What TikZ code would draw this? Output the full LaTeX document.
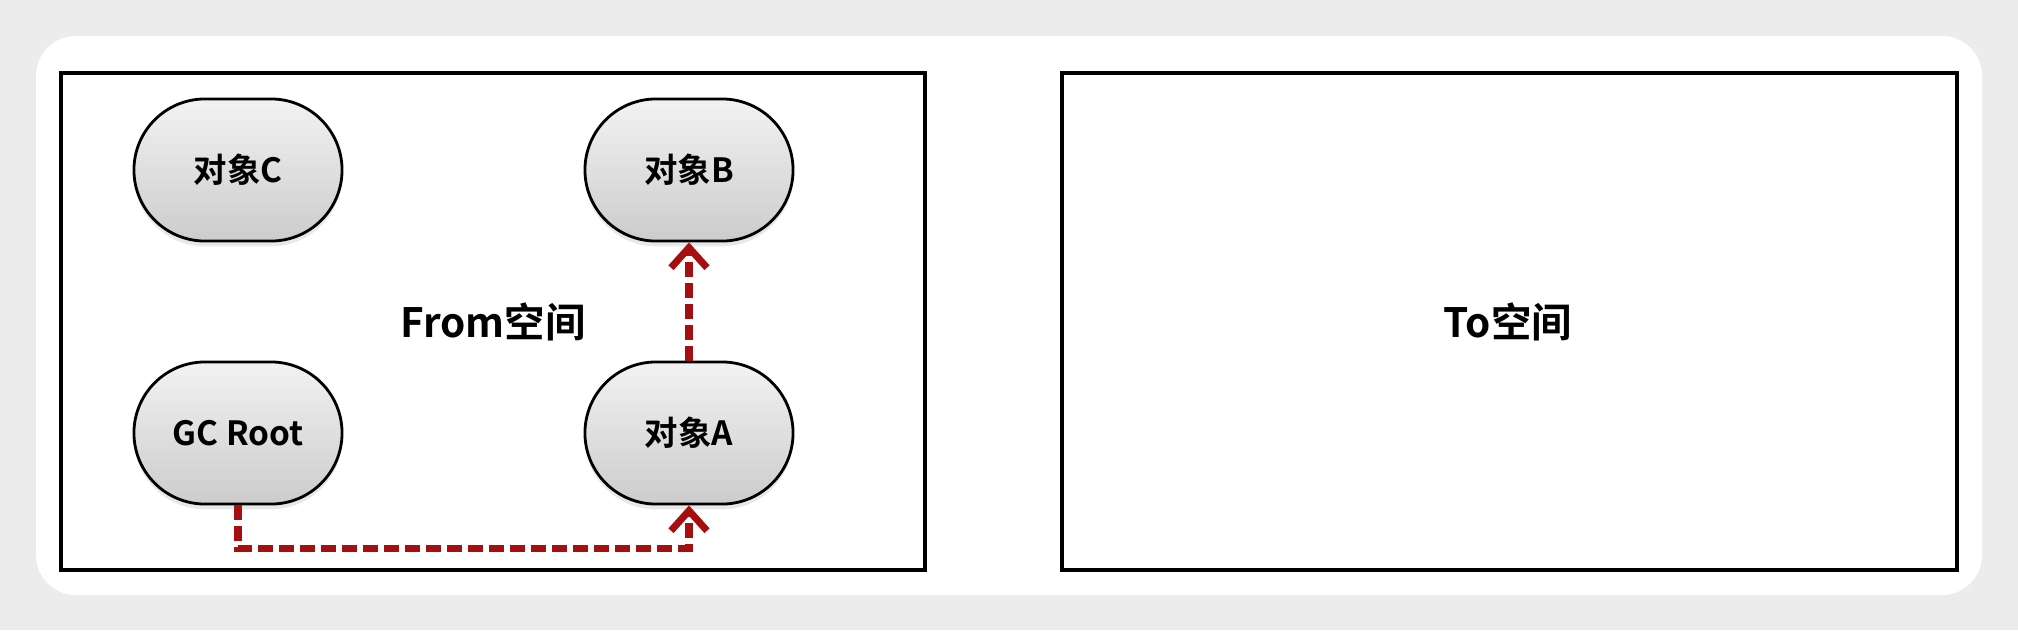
\documentclass[tikz,border=0pt]{standalone}
\usepackage{fontspec}
\setmainfont{Noto Sans CJK SC}[BoldFont={Noto Sans CJK SC Bold}]
\usetikzlibrary{arrows.meta,shadows}
\definecolor{refred}{HTML}{A50F0F}
\definecolor{pagegray}{HTML}{ECECEC}

\begin{document}
\begin{tikzpicture}[x=0.01cm,y=-0.01cm,
    obj/.style={draw=black,line width=0.8pt,rectangle,rounded corners=0.71cm,
      minimum width=2.08cm,minimum height=1.42cm,
      top color=gray!10,bottom color=gray!40,
      drop shadow={opacity=0.18,shadow xshift=0pt,shadow yshift=-1.5pt},
      font=\fontsize{9.5pt}{11pt}\selectfont\bfseries},
    space/.style={draw=black,line width=1.1pt},
    spacelabel/.style={font=\fontsize{11.5pt}{13pt}\selectfont\bfseries},
    ref/.style={draw=refred,line width=2pt,dash pattern=on 0.15cm off 0.06cm,
      -{Straight Barb[length=0.2cm,width=0.36cm,line width=2pt]}}]
    \useasboundingbox (0,0) rectangle (2018,630);
    \fill[pagegray] (0,0) rectangle (2018,630);
    \fill[white,rounded corners=0.4cm] (36,36) rectangle (1982,595);

    \draw[space] (61,73) rectangle (925,570);
    \draw[space] (1062,73) rectangle (1957,570);

    \node[obj] (objc) at (238,170) {对象C};
    \node[obj] (objb) at (689,170) {对象B};
    \node[obj] (root) at (238,433) {GC Root};
    \node[obj] (obja) at (689,433) {对象A};

    \node[spacelabel] (from) at (493,322) {From空间};
    \node[spacelabel] (to) at (1508,322) {To空间};

    \draw[ref] (root.south) -- ++(0,43) -| (obja.south);
    \draw[ref] (obja.north) -- (objb.south);
\end{tikzpicture}
\end{document}
